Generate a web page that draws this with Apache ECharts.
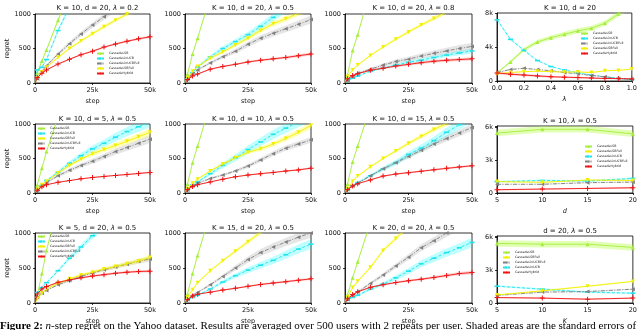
<!DOCTYPE html>
<html>
<head>
<meta charset="utf-8">
<script src="https://cdn.jsdelivr.net/npm/echarts@6/dist/echarts.min.js"></script>
<style>
  html, body { margin: 0; background: #fff; }
  #chart { width: 640px; height: 330px; }
</style>
</head>
<body>
<div id="chart"></div>
<script>
// methods, in the order used for every value / error list below
const methods = ['CascadeLSB', 'CascadeLinUCB', 'CascadeLinUCBFull', 'CascadeLSBFull', 'CascadeHybrid'];

const steps = [0, 1000, 3000, 5000, 10000, 15000, 20000, 25000, 30000, 35000, 40000, 45000, 50000];
const lambdas = [0, 0.1, 0.2, 0.3, 0.4, 0.5, 0.6, 0.7, 0.8, 0.9, 1.0];
const dims = [5, 10, 15, 20];
const listSizes = [5, 10, 15, 20];

const stepTickValues = [0, 25000, 50000];
const stepTickLabels = ['0', '25k', '50k'];
const regretTickValues = [0, 500, 1000];
const regretTickLabels = ['0', '500', '1000'];
const lambdaTickLabels = ['0.0', '0.2', '0.4', '0.6', '0.8', '1.0'];
const bigTickValues = [0, 3000, 4000, 6000, 8000];
const bigTickLabels = ['0', '3k', '4k', '6k', '8k'];

const panelTitles = [
  'K = 10, d = 20, {i|λ} = 0.2', 'K = 10, d = 20, {i|λ} = 0.5', 'K = 10, d = 20, {i|λ} = 0.8', 'K = 10, d = 20',
  'K = 10, d = 5, {i|λ} = 0.5', 'K = 10, d = 10, {i|λ} = 0.5', 'K = 10, d = 15, {i|λ} = 0.5', 'K = 10, {i|λ} = 0.5',
  'K = 5, d = 20, {i|λ} = 0.5', 'K = 15, d = 20, {i|λ} = 0.5', 'K = 20, d = 20, {i|λ} = 0.5', 'd = 20, {i|λ} = 0.5'
];

// ---- regret vs step ----
const regretK10d20l02 = [
  [0, 150, 320, 480, 910, 1300, 1680, 2050, 2400, 2750, 3100, 3400, 3700],
  [0, 190, 230, 340, 760, 1100, 1450, 1800, 2100, 2450, 2800, 3200, 3600],
  [0, 60, 170, 250, 420, 570, 710, 840, 960, 1080, 1200, 1330, 1450],
  [0, 70, 160, 230, 370, 500, 610, 715, 815, 910, 1000, 1070, 1140],
  [0, 80, 140, 190, 275, 345, 410, 460, 520, 565, 605, 640, 670]
];
const errK10d20l02 = [
  [0, 5, 10, 15, 25, 35, 45, 55, 65, 70, 75, 80, 85],
  [0, 12, 15, 20, 30, 40, 50, 60, 70, 80, 90, 100, 110],
  [0, 5, 12, 18, 25, 30, 35, 38, 42, 46, 50, 54, 58],
  [0, 4, 8, 10, 14, 17, 20, 22, 24, 26, 28, 30, 32],
  [0, 3, 5, 7, 9, 11, 12, 13, 14, 15, 16, 17, 18]
];
const regretK10d20l05 = [
  [0, 130, 420, 650, 1250, 1850, 2450, 3050, 3650, 4200, 4750, 5250, 5600],
  [0, 60, 150, 230, 380, 500, 600, 700, 820, 950, 1080, 1200, 1300],
  [0, 50, 130, 190, 290, 380, 460, 560, 650, 720, 785, 850, 920],
  [0, 70, 170, 240, 360, 450, 550, 650, 760, 860, 930, 1010, 1080],
  [0, 50, 100, 130, 200, 240, 270, 305, 330, 350, 370, 395, 420]
];
const errK10d20l05 = [
  [0, 4, 8, 12, 20, 28, 36, 44, 52, 60, 68, 76, 84],
  [0, 5, 10, 15, 25, 32, 38, 44, 50, 55, 60, 65, 70],
  [0, 4, 8, 12, 20, 26, 32, 38, 42, 46, 50, 54, 58],
  [0, 4, 8, 12, 18, 22, 26, 30, 33, 36, 38, 40, 42],
  [0, 2, 4, 6, 8, 10, 12, 13, 14, 16, 18, 20, 22]
];
const regretK10d20l08 = [
  [0, 120, 470, 700, 1350, 2000, 2700, 3400, 4100, 4800, 5500, 6200, 6800],
  [0, 30, 70, 100, 170, 215, 260, 300, 330, 370, 405, 435, 465],
  [0, 40, 95, 140, 200, 260, 310, 345, 390, 430, 465, 500, 530],
  [0, 90, 190, 260, 400, 520, 635, 740, 840, 935, 1030, 1120, 1210],
  [0, 60, 110, 135, 185, 215, 245, 270, 295, 315, 330, 340, 350]
];
const errK10d20l08 = [
  [0, 5, 10, 15, 25, 35, 45, 55, 65, 75, 85, 95, 105],
  [0, 3, 6, 8, 12, 15, 18, 21, 24, 27, 30, 33, 36],
  [0, 4, 8, 12, 18, 24, 30, 34, 38, 42, 46, 50, 54],
  [0, 4, 8, 10, 14, 17, 20, 23, 26, 29, 32, 35, 38],
  [0, 3, 6, 8, 12, 15, 17, 19, 21, 22, 23, 24, 25]
];
const regretK10d5 = [
  [0, 120, 360, 600, 1100, 1650, 2200, 2750, 3300, 3850, 4400, 4950, 5500],
  [0, 40, 110, 180, 300, 430, 540, 640, 720, 810, 890, 960, 1030],
  [0, 40, 100, 150, 250, 330, 400, 460, 530, 600, 660, 720, 780],
  [0, 50, 120, 170, 290, 400, 490, 570, 630, 690, 750, 815, 880],
  [0, 40, 90, 120, 155, 180, 205, 225, 240, 255, 268, 283, 298]
];
const errK10d5 = [
  [0, 4, 8, 12, 20, 28, 36, 44, 52, 60, 68, 76, 84],
  [0, 4, 8, 12, 22, 32, 42, 50, 56, 62, 68, 72, 76],
  [0, 4, 8, 12, 20, 26, 32, 36, 40, 44, 48, 52, 56],
  [0, 4, 8, 10, 16, 22, 28, 32, 36, 40, 44, 48, 52],
  [0, 2, 3, 4, 5, 6, 7, 8, 9, 10, 11, 12, 13]
];
const regretK10d10 = [
  [0, 130, 440, 680, 1280, 1900, 2500, 3100, 3700, 4300, 4900, 5400, 5850],
  [0, 50, 120, 160, 280, 400, 510, 630, 740, 850, 940, 1030, 1110],
  [0, 45, 100, 140, 210, 260, 320, 390, 480, 570, 650, 710, 770],
  [0, 60, 140, 200, 320, 420, 510, 590, 640, 710, 790, 880, 980],
  [0, 50, 95, 120, 160, 200, 235, 260, 280, 298, 318, 335, 360]
];
const errK10d10 = [
  [0, 4, 8, 12, 20, 28, 36, 44, 52, 60, 68, 76, 84],
  [0, 5, 10, 15, 28, 40, 50, 58, 64, 68, 72, 76, 80],
  [0, 3, 6, 9, 14, 18, 22, 26, 30, 34, 37, 40, 43],
  [0, 3, 6, 9, 14, 18, 22, 26, 30, 34, 38, 42, 46],
  [0, 2, 3, 4, 5, 6, 7, 8, 9, 10, 11, 12, 13]
];
const regretK10d15 = [
  [0, 130, 450, 680, 1250, 1850, 2450, 3050, 3650, 4250, 4850, 5400, 5850],
  [0, 50, 110, 150, 250, 350, 440, 560, 650, 760, 880, 990, 1100],
  [0, 50, 100, 140, 250, 350, 440, 530, 620, 710, 790, 870, 950],
  [0, 60, 170, 245, 380, 500, 610, 720, 820, 920, 1010, 1100, 1190],
  [0, 50, 100, 135, 190, 245, 275, 295, 315, 337, 357, 377, 395]
];
const errK10d15 = [
  [0, 4, 8, 12, 20, 28, 36, 44, 52, 60, 68, 76, 84],
  [0, 4, 8, 12, 22, 30, 38, 46, 52, 58, 64, 70, 76],
  [0, 3, 6, 9, 15, 20, 25, 30, 34, 38, 42, 46, 50],
  [0, 3, 6, 9, 14, 18, 22, 26, 30, 34, 38, 42, 46],
  [0, 2, 3, 4, 6, 8, 10, 11, 12, 13, 14, 15, 16]
];
const regretK5d20 = [
  [0, 110, 420, 750, 1400, 2050, 2650, 3250, 3800, 4300, 4800, 5150, 5470],
  [0, 150, 220, 290, 460, 640, 800, 960, 1110, 1240, 1370, 1460, 1540],
  [0, 80, 140, 180, 260, 320, 380, 430, 475, 515, 555, 595, 630],
  [0, 60, 140, 200, 280, 345, 400, 440, 485, 520, 560, 600, 650],
  [0, 130, 200, 235, 295, 330, 360, 385, 405, 425, 440, 450, 455]
];
const errK5d20 = [
  [0, 4, 8, 12, 20, 28, 36, 44, 52, 60, 68, 76, 84],
  [0, 6, 10, 14, 22, 30, 38, 46, 54, 62, 70, 78, 86],
  [0, 3, 6, 8, 12, 15, 18, 21, 24, 27, 30, 33, 36],
  [0, 3, 6, 8, 12, 15, 18, 21, 24, 27, 30, 33, 36],
  [0, 3, 5, 7, 9, 11, 13, 15, 16, 17, 18, 19, 20]
];
const regretK15d20 = [
  [0, 130, 420, 680, 1280, 1900, 2500, 3100, 3700, 4250, 4800, 5100, 5400],
  [0, 40, 80, 110, 200, 300, 390, 470, 540, 610, 690, 770, 840],
  [0, 50, 110, 150, 260, 380, 500, 620, 720, 800, 870, 940, 1000],
  [0, 80, 190, 290, 460, 605, 740, 875, 1010, 1140, 1270, 1400, 1540],
  [0, 50, 100, 125, 155, 185, 210, 238, 265, 285, 305, 325, 345]
];
const errK15d20 = [
  [0, 4, 8, 12, 20, 28, 36, 44, 52, 60, 68, 76, 84],
  [0, 3, 6, 9, 16, 24, 32, 40, 46, 52, 58, 64, 70],
  [0, 4, 8, 12, 20, 28, 36, 44, 50, 56, 60, 64, 68],
  [0, 4, 8, 10, 15, 20, 25, 30, 34, 38, 42, 46, 50],
  [0, 2, 3, 4, 6, 8, 10, 12, 13, 14, 15, 16, 17]
];
const regretK20d20 = [
  [0, 120, 360, 590, 1150, 1700, 2250, 2800, 3350, 3900, 4400, 4800, 5100],
  [0, 40, 80, 110, 200, 270, 360, 455, 560, 640, 720, 790, 865],
  [0, 50, 110, 160, 280, 400, 530, 655, 790, 890, 1000, 1100, 1200],
  [0, 80, 220, 310, 510, 750, 920, 1100, 1270, 1440, 1600, 1780, 1950],
  [0, 60, 120, 160, 225, 262, 292, 318, 340, 365, 392, 420, 435]
];
const errK20d20 = [
  [0, 4, 8, 12, 20, 28, 36, 44, 52, 60, 68, 76, 84],
  [0, 4, 8, 12, 20, 28, 36, 44, 50, 56, 60, 64, 68],
  [0, 4, 8, 12, 20, 28, 36, 42, 48, 52, 56, 60, 64],
  [0, 4, 8, 12, 18, 24, 30, 36, 42, 48, 54, 60, 66],
  [0, 3, 5, 7, 10, 12, 14, 16, 18, 20, 22, 24, 26]
];

// ---- final regret vs lambda / d / K ----
const regretByLambda = [
  [950, 2250, 3700, 4600, 5100, 5500, 5900, 6200, 6800, 7900, 9000],
  [7200, 4900, 3600, 2400, 1700, 1300, 950, 700, 500, 300, 150],
  [1000, 1350, 1500, 1350, 1200, 1000, 850, 650, 500, 300, 200],
  [850, 1000, 1100, 1150, 1100, 1050, 1070, 1000, 1200, 1250, 1400],
  [950, 800, 700, 600, 500, 450, 400, 350, 300, 280, 250]
];
const errByLambda = [
  [80, 150, 200, 250, 250, 300, 300, 300, 300, 350, 400],
  [150, 120, 100, 80, 60, 50, 40, 30, 30, 20, 20],
  [60, 60, 60, 60, 50, 50, 40, 40, 30, 30, 20],
  [50, 50, 50, 50, 50, 50, 50, 50, 50, 50, 50],
  [150, 150, 140, 130, 120, 110, 100, 90, 80, 70, 60]
];
const regretByDim = [
  [5500, 5850, 5850, 5430],
  [1040, 1150, 1100, 1340],
  [800, 800, 950, 1000],
  [1050, 980, 1190, 1150],
  [300, 360, 420, 480]
];
const errByDim = [
  [300, 300, 300, 300],
  [80, 80, 80, 80],
  [50, 50, 50, 50],
  [60, 60, 60, 60],
  [60, 60, 60, 60]
];
const regretByK = [
  [5470, 5400, 5400, 5100],
  [1540, 1270, 1000, 900],
  [700, 1000, 1050, 1270],
  [740, 1120, 1540, 1980],
  [500, 450, 350, 450]
];
const errByK = [
  [300, 300, 300, 300],
  [80, 80, 80, 80],
  [60, 60, 60, 60],
  [60, 60, 60, 60],
  [60, 60, 60, 60]
];

// ---- styles ----
const plusPath = 'path://M2,0H3V2H5V3H3V5H2V3H0V2H2Z';
const looks = [
  { color: '#a6ee3c', band: 'rgba(173,255,47,0.35)', dash: 'solid', symbol: 'triangle', size: 4, rotate: 0 },
  { color: '#1ee4ee', band: 'rgba(0,255,255,0.25)', dash: [3, 2], symbol: 'rect', size: [5, 1.6], rotate: 0 },
  { color: '#808080', band: 'rgba(128,128,128,0.2)', dash: [4, 1.5, 1, 1.5], symbol: 'triangle', size: 4, rotate: 90 },
  { color: '#f2ef00', band: 'rgba(255,255,0,0.3)', dash: 'solid', symbol: 'triangle', size: 4, rotate: 180 },
  { color: '#f01414', band: 'rgba(255,0,0,0.18)', dash: 'solid', symbol: plusPath, size: 5, rotate: 0 }
];

const colBox = [[35, 115], [185, 126], [345, 127], [497, 136]];
const rowBox = [[14, 69], [124, 69], [233, 70]];
const sideRowBox = [[13, 68], [126, 67], [236, 67]];

const panels = [
  { values: regretK10d20l02, errors: errK10d20l02, legend: [0, 1, 2, 3, 4], legendAt: [96, 52] },
  { values: regretK10d20l05, errors: errK10d20l05 },
  { values: regretK10d20l08, errors: errK10d20l08 },
  { values: regretByLambda, errors: errByLambda, xs: lambdas, xName: 'λ', legend: [0, 1, 2, 3, 4], legendAt: [580, 32] },
  { values: regretK10d5, errors: errK10d5, legend: [0, 1, 3, 2, 4], legendAt: [37, 127] },
  { values: regretK10d10, errors: errK10d10 },
  { values: regretK10d15, errors: errK10d15 },
  { values: regretByDim, errors: errByDim, xs: dims, xName: 'd', legend: [0, 3, 1, 2, 4], legendAt: [584, 145] },
  { values: regretK5d20, errors: errK5d20, legend: [0, 1, 3, 2, 4], legendAt: [37, 235] },
  { values: regretK15d20, errors: errK15d20 },
  { values: regretK20d20, errors: errK20d20 },
  { values: regretByK, errors: errByK, xs: listSizes, xName: 'K', legend: [0, 3, 2, 1, 4], legendAt: [502, 251] }
];

const font = 'DejaVu Sans';
const grids = [], xAxes = [], yAxes = [], series = [], titles = [], legends = [];

function pick(values, labels) {
  return v => {
    const i = values.indexOf(Math.round(v));
    return i < 0 ? '' : labels[i];
  };
}

panels.forEach((p, i) => {
  const row = Math.floor(i / 4), col = i % 4;
  const side = col === 3;
  const [top, height] = side ? sideRowBox[row] : rowBox[row];
  const [left, width] = colBox[col];
  grids.push({ left, top, width, height, show: true, borderColor: '#000', borderWidth: 0.8, backgroundColor: '#fff' });

  titles.push({
    text: panelTitles[i], left: left + width / 2, top: row === 0 ? 0 : top - 13, textAlign: 'center',
    textStyle: { fontFamily: font, fontSize: 7, fontWeight: 'normal', color: '#111',
      rich: { i: { fontFamily: font, fontSize: 7, fontStyle: 'italic', color: '#111' } } }
  });

  const axisLine = { show: true, lineStyle: { color: '#000', width: 0.8 } };
  const axisTick = { show: true, length: 2, inside: false, lineStyle: { color: '#000', width: 0.8 } };
  const labelStyle = { fontFamily: font, fontSize: 6.5, color: '#111' };
  const xs = p.xs || steps;

  let xAxis;
  if (!side) {
    xAxis = { min: 0, max: 50000, interval: 25000, name: 'step',
      axisLabel: { ...labelStyle, margin: 4, formatter: pick(stepTickValues, stepTickLabels) } };
  } else if (p.xs === lambdas) {
    xAxis = { min: 0, max: 1, interval: 0.2, name: p.xName,
      axisLabel: { ...labelStyle, margin: 4, formatter: v => lambdaTickLabels[Math.round(v * 5)] } };
  } else {
    xAxis = { min: 5, max: 20, interval: 5, name: p.xName,
      axisLabel: { ...labelStyle, margin: 4 } };
  }
  xAxes.push({
    gridIndex: i, type: 'value', ...xAxis, axisLine, axisTick, splitLine: { show: false },
    nameLocation: 'middle', nameGap: 15, nameMoveOverlap: false,
    nameTextStyle: { fontFamily: font, fontSize: 6.5, color: '#111', fontStyle: side ? 'italic' : 'normal' }
  });

  let yAxis;
  if (!side) {
    yAxis = { min: 0, max: 1000, interval: 500, axisLabel: { ...labelStyle, margin: 4, formatter: pick(regretTickValues, regretTickLabels) } };
  } else if (row === 0) {
    yAxis = { min: 0, max: 8000, interval: 4000, axisLabel: { ...labelStyle, margin: 4, formatter: pick(bigTickValues, bigTickLabels) } };
  } else {
    yAxis = { min: 0, max: 6150, interval: 3000, axisLabel: { ...labelStyle, margin: 4, formatter: pick(bigTickValues, bigTickLabels) } };
  }
  yAxes.push({
    gridIndex: i, type: 'value', ...yAxis, axisLine, axisTick, splitLine: { show: false },
    name: col === 0 ? 'regret' : '', nameLocation: 'middle', nameGap: 24, nameMoveOverlap: false,
    nameTextStyle: { fontFamily: font, fontSize: 6.5, color: '#111' }
  });

  // shaded standard-error bands, drawn under every line
  p.values.forEach((ys, m) => {
    const errs = p.errors[m];
    series.push({
      type: 'custom', name: 'band' + i + '_' + m, xAxisIndex: i, yAxisIndex: i, coordinateSystem: 'cartesian2d',
      clip: true, silent: true, z: 1, data: [[xs[0], ys[0]]],
      renderItem: (params, api) => {
        const upper = xs.map((x, j) => api.coord([x, ys[j] + errs[j]]));
        const lower = xs.map((x, j) => api.coord([x, Math.max(0, ys[j] - errs[j])])).reverse();
        return { type: 'polygon', shape: { points: upper.concat(lower) }, style: { fill: looks[m].band, stroke: null } };
      }
    });
  });

  p.values.forEach((ys, m) => {
    const lk = looks[m];
    series.push({
      type: 'line', name: methods[m], xAxisIndex: i, yAxisIndex: i,
      data: xs.map((x, j) => (!side && j === 0) ? { value: [x, ys[j]], symbol: 'none' } : [x, ys[j]]),
      symbol: lk.symbol, symbolSize: lk.size, symbolRotate: lk.rotate, showAllSymbol: true,
      itemStyle: { color: lk.color, borderWidth: 0 },
      lineStyle: { color: lk.color, width: 0.9, type: lk.dash },
      emphasis: { disabled: true }, z: 2 + m
    });
  });

  if (p.legend) {
    legends.push({
      data: p.legend.map(m => methods[m]), orient: 'vertical', left: p.legendAt[0], top: p.legendAt[1],
      itemWidth: 7, itemHeight: 3, itemGap: 2, padding: 0, selectedMode: false,
      textStyle: { fontFamily: font, fontSize: 3.2, color: '#222' }
    });
  }
});

const chart = echarts.init(document.getElementById('chart'), null, { renderer: 'canvas' });
chart.setOption({
  animation: false,
  backgroundColor: '#fff',
  title: titles,
  legend: legends,
  grid: grids,
  xAxis: xAxes,
  yAxis: yAxes,
  series,
  graphic: [{
    type: 'text', left: 0, top: 321,
    style: {
      text: '{b|Figure 2:} {i|n}-step regret on the Yahoo dataset. Results are averaged over 500 users with 2 repeats per user. Shaded areas are the standard errors of',
      fontFamily: 'Liberation Serif', fontSize: 11, fill: '#000',
      rich: {
        b: { fontFamily: 'Liberation Serif', fontSize: 11, fontWeight: 'bold', fill: '#000' },
        i: { fontFamily: 'Liberation Serif', fontSize: 11, fontStyle: 'italic', fill: '#000' }
      }
    }
  }]
});
</script>
</body>
</html>
